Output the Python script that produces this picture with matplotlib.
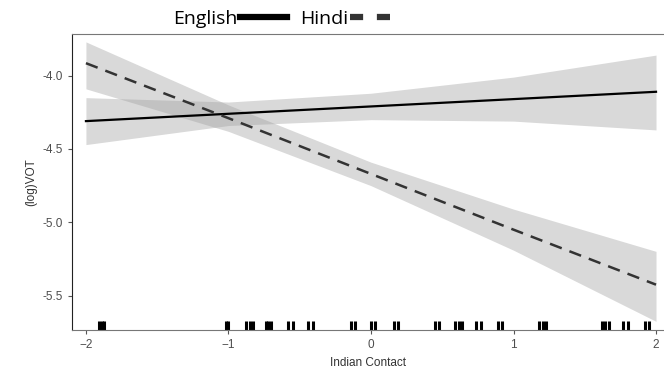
import matplotlib.pyplot as plt
from matplotlib.lines import Line2D
import matplotlib.transforms as mtransforms

plt.rcParams['font.family'] = ['Liberation Sans', 'DejaVu Sans']

# points along Indian Contact where fit and bands were read
contact = [-2, -1, 0, 1, 2]

english_fit = [-4.31, -4.26, -4.21, -4.16, -4.11]
english_lo = [-4.47, -4.34, -4.30, -4.31, -4.37]
english_hi = [-4.15, -4.18, -4.12, -4.01, -3.86]

hindi_fit = [-3.915, -4.29, -4.67, -5.05, -5.425]
hindi_lo = [-4.09, -4.38, -4.75, -5.19, -5.675]
hindi_hi = [-3.77, -4.20, -4.59, -4.91, -5.198]

rug = [-1.91, -1.89, -1.87, -1.02, -1.00, -0.88, -0.85, -0.83, -0.74, -0.72,
       -0.70, -0.58, -0.55, -0.44, -0.41, -0.14, -0.11, 0.0, 0.03, 0.16, 0.19,
       0.45, 0.48, 0.59, 0.62, 0.64, 0.74, 0.77, 0.89, 0.92, 1.18, 1.21, 1.23,
       1.62, 1.64, 1.67, 1.77, 1.80, 1.92, 1.95]

xticks = [-2, -1, 0, 1, 2]
yticks = [-5.5, -5.0, -4.5, -4.0]

fig = plt.figure(figsize=(6.64, 3.81), dpi=100)
ax = fig.add_axes([0.1084, 0.1339, 0.8916, 0.7769])

ax.fill_between(contact, english_lo, english_hi, color="#a0a0a0", alpha=0.4, lw=0)
ax.fill_between(contact, hindi_lo, hindi_hi, color="#a0a0a0", alpha=0.4, lw=0)
ax.plot(contact, english_fit, color="black", lw=1.6)
ax.plot(contact, hindi_fit, color="#333333", lw=1.8, dashes=(5, 3.3))

trans = mtransforms.blended_transform_factory(ax.transData, ax.transAxes)
ax.vlines(rug, 0, 0.03, color="black", lw=2.2, transform=trans)

ax.set_xlim(-2.098, 2.056)
ax.set_ylim(-5.734, -3.716)
ax.set_xticks(xticks)
ax.set_yticks(yticks)
ax.set_yticklabels([f"{v:.1f}" for v in yticks])
ax.tick_params(colors="#555555", labelsize=8.5, length=3, width=0.8)
ax.tick_params(axis="both", labelcolor="#4d4d4d")
ax.set_xlabel("Indian Contact", fontsize=8.5, color="#333333")
ax.set_ylabel("(log)VOT", fontsize=8.5, color="#333333")

ax.spines["right"].set_visible(False)
ax.spines["left"].set_color("#222222")
ax.spines["bottom"].set_color("#777777")
ax.spines["top"].set_color("#777777")

handles = [Line2D([], [], color="black", lw=4.5),
           Line2D([], [], color="#333333", lw=4.5, dashes=(2.1, 2.2))]
fig.legend(handles, ["English", "Hindi"], loc="upper left", bbox_to_anchor=(0.235, 1.02),
           ncol=2, frameon=False, markerfirst=False, handlelength=2.4,
           columnspacing=0.7, handletextpad=0.1,
           prop={"family": "Open Sans", "size": 14})

fig.savefig("out.png", dpi=100)
